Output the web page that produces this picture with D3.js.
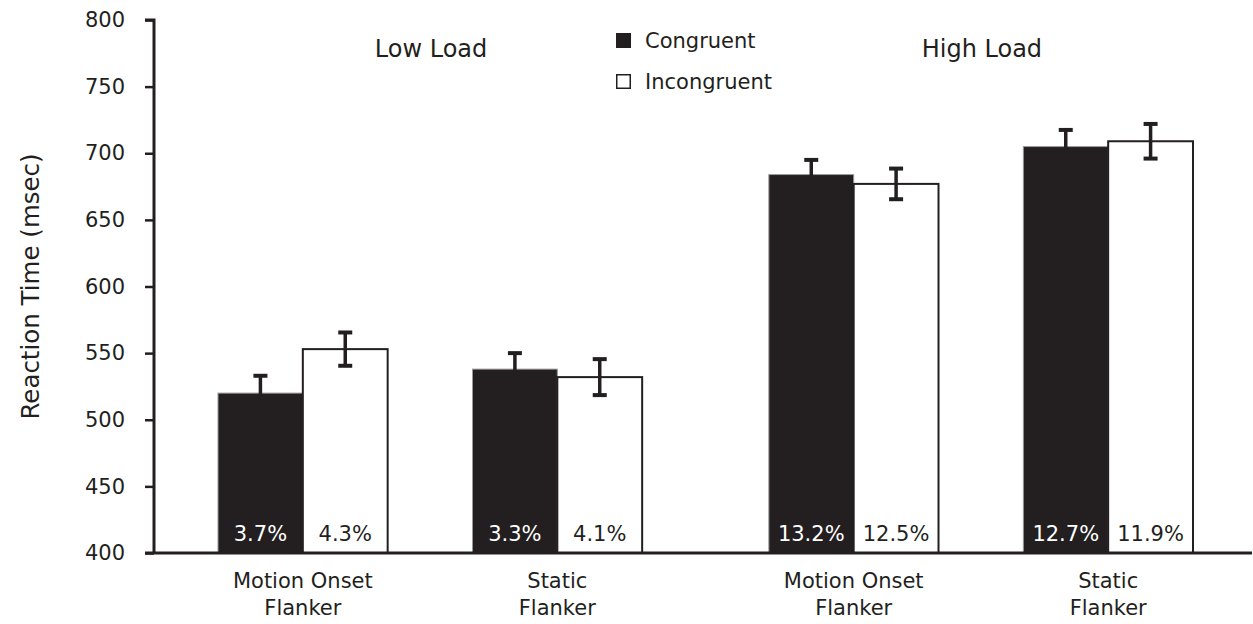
<!DOCTYPE html>
<html>
<head>
<meta charset="utf-8">
<script src="https://cdn.jsdelivr.net/npm/d3@7"></script>
<style>
  body { margin: 0; background: #fff; }
  text { font-family: "DejaVu Sans", Verdana, sans-serif; fill: #231f20; }
</style>
</head>
<body>
<div id="chart"></div>
<script>
// data
const loads = ["Low Load", "High Load"];
const flankers = ["Motion Onset Flanker", "Static Flanker"];
const conditions = ["Congruent", "Incongruent"];
const congruentRT = [520, 538, 684, 705];
const incongruentRT = [553, 532, 677, 709];
const congruentSE = [13, 12, 11, 12.5];
const incongruentSE = [12.5, 13.5, 11.5, 13];
const congruentErr = ["3.7%", "3.3%", "13.2%", "12.7%"];
const incongruentErr = ["4.3%", "4.1%", "12.5%", "11.9%"];
const yTicks = [400, 450, 500, 550, 600, 650, 700, 750, 800];

const width = 1253, height = 624;
const dark = "#231f20";
const fontsize = 21;

const svg = d3.select("#chart")
    .append("svg")
    .attr("width", width)
    .attr("height", height);

// rows: one per bar
const rows = [];
loads.forEach((load, li) => {
    flankers.forEach((fl, fi) => {
        const i = li * 2 + fi;
        rows.push({ load, flanker: fl, cond: "Congruent", rt: congruentRT[i], se: congruentSE[i], err: congruentErr[i] });
        rows.push({ load, flanker: fl, cond: "Incongruent", rt: incongruentRT[i], se: incongruentSE[i], err: incongruentErr[i] });
    });
});

// scales
const yScale = d3.scaleLinear()
    .domain([400, 800])
    .range([553, 20]);

const xLoad = d3.scaleBand()
    .domain(loads)
    .range([218, 1193])
    .paddingInner(0.23);

const xFlanker = d3.scaleBand()
    .domain(flankers)
    .range([0, xLoad.bandwidth()])
    .paddingInner(1 / 3);

const xCond = d3.scaleBand()
    .domain(conditions)
    .range([0, xFlanker.bandwidth()]);

const barX = d => xLoad(d.load) + xFlanker(d.flanker) + xCond(d.cond);

// bars
const bars = svg.append("g").attr("class", "bars");
bars.selectAll("rect")
    .data(rows)
    .enter().append("rect")
    .attr("x", d => barX(d))
    .attr("width", xCond.bandwidth())
    .attr("y", d => yScale(d.rt))
    .attr("height", d => yScale(400) - yScale(d.rt))
    .attr("fill", d => d.cond === "Congruent" ? dark : "#fff")
    .attr("stroke", d => d.cond === "Congruent" ? "#9a9a9a" : dark)
    .attr("stroke-width", d => d.cond === "Congruent" ? 1 : 2);

// error bars
const capW = 14;
const errs = svg.append("g").attr("class", "errorbars");
rows.forEach(d => {
    const cx = barX(d) + xCond.bandwidth() / 2;
    const g = errs.append("g");
    g.append("line")
        .attr("x1", cx).attr("x2", cx)
        .attr("y1", yScale(d.rt + d.se)).attr("y2", yScale(d.rt - d.se))
        .attr("stroke", dark).attr("stroke-width", 3.5);
    [d.rt + d.se, d.rt - d.se].forEach(v => {
        g.append("line")
            .attr("x1", cx - capW / 2).attr("x2", cx + capW / 2)
            .attr("y1", yScale(v)).attr("y2", yScale(v))
            .attr("stroke", dark).attr("stroke-width", 4);
    });
});

// error-rate labels inside bars
svg.append("g").selectAll("text")
    .data(rows)
    .enter().append("text")
    .attr("x", d => barX(d) + xCond.bandwidth() / 2)
    .attr("y", 541)
    .attr("text-anchor", "middle")
    .attr("font-size", fontsize)
    .style("fill", d => d.cond === "Congruent" ? "#fff" : dark)
    .text(d => d.err);

// y axis
const axisY = d3.axisLeft(yScale)
    .tickValues(yTicks)
    .tickSize(9)
    .tickPadding(20);

const gy = svg.append("g")
    .attr("class", "axis_y")
    .attr("transform", "translate(154,0)")
    .call(axisY);
gy.select(".domain").attr("stroke", dark).attr("stroke-width", 3)
    .attr("d", `M-9,${yScale(800)}H0V${yScale(400)}`);
gy.selectAll(".tick line").attr("stroke", dark).attr("stroke-width", 2.5);
gy.selectAll(".tick text")
    .attr("font-size", fontsize)
    .attr("font-family", null);

// x axis baseline
svg.append("line")
    .attr("x1", 145).attr("x2", 1252)
    .attr("y1", yScale(400)).attr("y2", yScale(400))
    .attr("stroke", dark).attr("stroke-width", 3);

// category labels below
const catLabels = svg.append("g");
rows.filter(d => d.cond === "Congruent").forEach(d => {
    const cx = xLoad(d.load) + xFlanker(d.flanker) + xFlanker.bandwidth() / 2;
    const words = d.flanker.replace(" Flanker", "");
    const t = catLabels.append("text")
        .attr("x", cx)
        .attr("y", 588)
        .attr("text-anchor", "middle")
        .attr("font-size", fontsize);
    t.append("tspan").attr("x", cx).text(words);
    t.append("tspan").attr("x", cx).attr("dy", 27).text("Flanker");
});

// load headers, centred over each load group
loads.forEach(load => {
    svg.append("text")
        .attr("x", xLoad(load) + xLoad.bandwidth() / 2 + 1)
        .attr("y", 57)
        .attr("text-anchor", "middle")
        .attr("font-size", 24)
        .text(load);
});

// y axis title
svg.append("text")
    .attr("transform", `translate(39, ${(yScale(400) + yScale(800)) / 2}) rotate(-90)`)
    .attr("text-anchor", "middle")
    .attr("font-size", 24.5)
    .text("Reaction Time (msec)");

// legend
const legend = svg.append("g").attr("transform", "translate(616,33)");
conditions.forEach((c, i) => {
    const row = legend.append("g").attr("transform", `translate(0, ${i * 41})`);
    row.append("rect")
        .attr("x", 0.75).attr("y", 0.75)
        .attr("width", 13.5).attr("height", 13.5)
        .attr("fill", c === "Congruent" ? dark : "#fff")
        .attr("stroke", dark)
        .attr("stroke-width", 1.5);
    row.append("text")
        .attr("x", 29)
        .attr("y", 7.5)
        .attr("dominant-baseline", "central")
        .attr("font-size", fontsize)
        .text(c);
});
</script>
</body>
</html>
